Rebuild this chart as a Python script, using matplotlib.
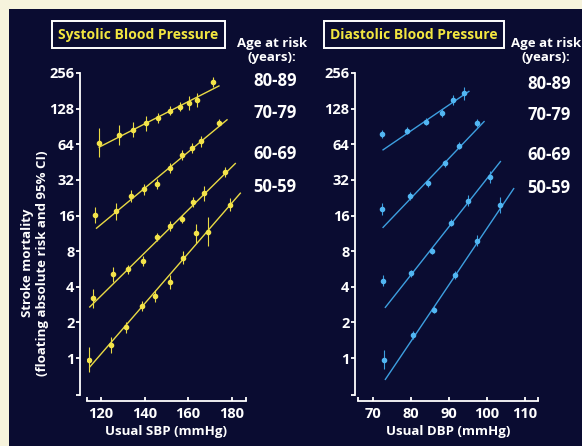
import numpy as np
import matplotlib
matplotlib.use("Agg")
import matplotlib.pyplot as plt
from matplotlib.ticker import FixedLocator, NullFormatter

plt.rcParams['font.family'] = ['Open Sans', 'DejaVu Sans']
plt.rcParams['font.weight'] = 'bold'

ages = ['80-89', '70-79', '60-69', '50-59']

# systolic: usual SBP, risk, log2 half width of 95% CI
sbp_x = [
    [119.2, 128.4, 134.6, 140.7, 146.4, 151.7, 156.3, 160.6, 164.0, 171.4],
    [117.5, 126.9, 133.6, 139.9, 145.7, 151.7, 157.1, 161.7, 166.0, 173.9],
    [116.2, 125.4, 132.4, 139.4, 145.7, 151.7, 157.1, 162.4, 167.4, 177.0],
    [114.6, 124.5, 131.5, 138.7, 144.8, 151.7, 157.6, 163.7, 169.3, 179.0],
]
sbp_y = [
    [66, 77, 85, 96, 106, 123, 133, 143, 152, 213],
    [16.2, 17.3, 23.3, 26.7, 29.6, 40.2, 52, 59.3, 67.6, 97.7],
    [3.2, 5.1, 5.6, 6.6, 10.5, 13.1, 14.9, 21, 24.7, 37.6],
    [0.97, 1.29, 1.82, 2.75, 3.34, 4.4, 7.05, 11.3, 11.7, 19.7],
]
sbp_ci = [
    [0.40, 0.28, 0.21, 0.20, 0.14, 0.12, 0.12, 0.20, 0.20, 0.14],
    [0.23, 0.23, 0.16, 0.15, 0.14, 0.14, 0.14, 0.14, 0.16, 0.11],
    [0.27, 0.21, 0.13, 0.14, 0.12, 0.14, 0.11, 0.14, 0.21, 0.14],
    [0.36, 0.23, 0.16, 0.15, 0.18, 0.20, 0.18, 0.26, 0.40, 0.18],
]
# fitted lines (start, end)
sbp_fit_x = [[119.2, 174.1], [118.0, 177.8], [114.9, 181.6], [114.9, 183.9]]
sbp_fit_y = [[60.5, 199], [12.5, 103], [2.7, 44], [0.84, 24.7]]

# diastolic
dbp_x = [
    [72.2, 79.0, 83.8, 88.0, 90.9, 93.9],
    [72.4, 79.6, 84.4, 88.9, 92.6, 97.4],
    [72.6, 80.0, 85.4, 90.5, 95.0, 100.7],
    [72.9, 80.4, 85.9, 91.6, 97.3, 103.5],
]
dbp_y = [
    [78, 83.6, 99.5, 117, 152, 173],
    [18.1, 23.4, 30, 44.3, 62, 96.5],
    [4.5, 5.2, 8.06, 13.9, 21.4, 33.8],
    [0.97, 1.56, 2.55, 5.03, 9.8, 19.7],
]
dbp_ci = [
    [0.12, 0.11, 0.11, 0.11, 0.14, 0.18],
    [0.16, 0.10, 0.10, 0.10, 0.10, 0.12],
    [0.15, 0.10, 0.10, 0.10, 0.16, 0.18],
    [0.27, 0.12, 0.10, 0.10, 0.16, 0.23],
]
dbp_fit_x = [[72.6, 95.2], [72.6, 99.2], [73.2, 103.5], [73.2, 107.0]]
dbp_fit_y = [[57.4, 179], [12.7, 99.5], [2.68, 45.7], [0.66, 27]]

yticks = [1, 2, 4, 8, 16, 32, 64, 128, 256]
sbp_ticks = [120, 140, 160, 180]
dbp_ticks = [70, 80, 90, 100, 110]

navy = '#0a0c31'
cream = '#f6f3dc'
yellow = '#e9da44'
blue = '#3d9fe0'

W, H = 582, 446
fig = plt.figure(figsize=(W / 100, H / 100), dpi=100)
fig.patch.set_facecolor(cream)
fig.patches.append(plt.Rectangle((9 / W, 0), 1, 1 - 9 / H, transform=fig.transFigure,
                                 facecolor=navy, edgecolor='none', zorder=-10))


def panel(rect, xs, ys, ci, fx, fy, col, mcol, xlim, xticks, xlabel, yoff):
    ax = fig.add_axes(rect)
    ax.set_zorder(2)
    ax.set_facecolor('none')
    ax.set_yscale('log', base=2)
    for x, y, e, lx, ly in zip(xs, ys, ci, fx, fy):
        x = np.array(x)
        y = np.array(y)
        e = np.array(e)
        ax.plot(lx, ly, color=col, lw=1.0)
        ax.errorbar(x, y, yerr=[y - y / 2 ** e, y * 2 ** e - y], fmt='o', ms=3,
                    color=mcol, ecolor=col, elinewidth=0.8, capsize=0)
    ax.set_xlim(xlim)
    ax.set_ylim(0.487, 256)
    for s in ['top', 'right']:
        ax.spines[s].set_visible(False)
    ax.spines['left'].set_position(('outward', yoff))
    ax.spines['bottom'].set_position(('outward', 4.3))
    for s in ['left', 'bottom']:
        ax.spines[s].set_color('white')
        ax.spines[s].set_linewidth(1.3)
    ax.set_yticks(yticks)
    ax.set_yticklabels([str(t) for t in yticks])
    ax.yaxis.set_minor_locator(FixedLocator([0.487]))
    ax.yaxis.set_minor_formatter(NullFormatter())
    ax.set_xticks(xticks)
    ax.xaxis.set_minor_locator(FixedLocator(list(xlim)))
    ax.tick_params(axis='y', which='both', direction='out', length=3, width=1.3,
                   colors='white', labelsize=10.5, pad=1)
    ax.tick_params(axis='x', which='both', direction='in', length=3, width=1.3,
                   colors='white', labelsize=10.5, pad=4)
    ax.set_xlabel(xlabel, color='white', fontsize=9.5, fontweight='bold', labelpad=3)
    return ax


panel([86.7 / W, 51 / H, 159.3 / W, 322 / H], sbp_x, sbp_y, sbp_ci, sbp_fit_x, sbp_fit_y,
      yellow, '#f3e34a', (113.5, 186.5), sbp_ticks, 'Usual SBP (mmHg)', 4.8)
panel([358 / W, 51 / H, 180 / W, 322 / H], dbp_x, dbp_y, dbp_ci, dbp_fit_x, dbp_fit_y,
      blue, '#52b6f2', (66, 113.4), dbp_ticks, 'Usual DBP (mmHg)', 2.2)

fig.text(35 / W, 1 - 263 / H, 'Stroke mortality\n(floating absolute risk and 95% CI)',
         rotation=90, ha='center', va='center', ma='center', color='white',
         fontsize=9.5, fontweight='bold', linespacing=1.15)

box = dict(boxstyle='square,pad=0.45', fc=navy, ec='white', lw=1.4)
fig.text(138.3 / W, 1 - 34.7 / H, 'Systolic Blood Pressure', ha='center', va='center',
         color='#f2e640', fontsize=10, fontweight='bold', bbox=box)
fig.text(413.8 / W, 1 - 34.7 / H, 'Diastolic Blood Pressure', ha='center', va='center',
         color='#f2e640', fontsize=10, fontweight='bold', bbox=box)

for cx, ys_lab in [(272, [81, 113, 154, 187]), (546, [84, 115, 155, 188])]:
    fig.text(cx / W, 1 - 51 / H, 'Age at risk\n(years):', ha='center', va='center',
             color='white', fontsize=9.5, fontweight='bold', linespacing=1.1)
    for a, yy in zip(ages, ys_lab):
        fig.text((cx + 3) / W, 1 - yy / H, a, ha='center', va='center', color='white',
                 fontsize=12, fontweight='bold')

fig.savefig('out.png', dpi=100, facecolor=fig.get_facecolor())
